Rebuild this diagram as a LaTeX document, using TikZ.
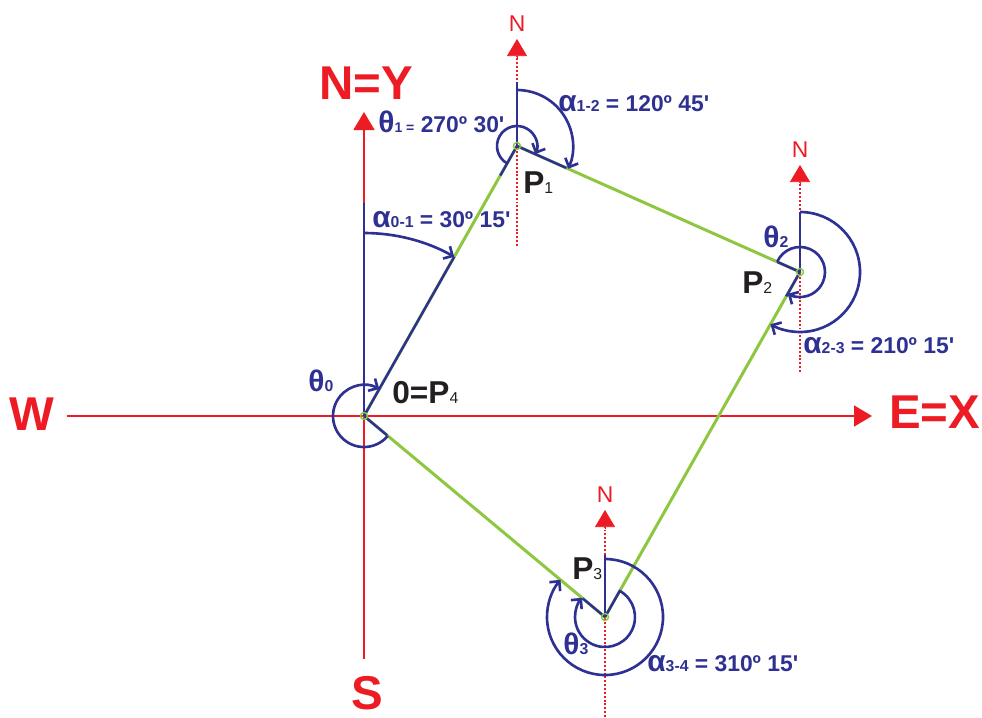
\documentclass[tikz,border=0pt]{standalone}
\usepackage{fontspec}
\setmainfont{Liberation Sans}
\usetikzlibrary{arrows.meta,calc}
\definecolor{axred}{HTML}{ED1C24}
\definecolor{angblue}{HTML}{2E3192}
\definecolor{travgreen}{HTML}{8DC63F}
\definecolor{ptdark}{HTML}{231F20}

\newcommand{\azlbl}[2]{{\fontsize{17}{17}\selectfont α}{\fontsize{9}{9}\selectfont #1} = #2}
\newcommand{\thlbl}[1]{{\fontsize{17}{17}\selectfont θ}{\fontsize{9}{9}\selectfont #1}}
\newcommand{\ptlbl}[1]{P{\fontsize{9}{9}\selectfont\mdseries #1}}
\newcommand{\mn}{\textquotesingle}

\begin{document}
\begin{tikzpicture}[
    axis/.style={draw=axred, line width=0.9pt, -{Triangle[length=0.36cm, width=0.42cm]}},
    northline/.style={draw=axred, line width=0.9pt, dash pattern=on 1.1pt off 1.1pt},
    northtip/.style={draw=axred, line width=0.4pt, -{Triangle[length=0.34cm, width=0.4cm]}},
    trav/.style={draw=travgreen, line width=1.7pt, line join=round},
    leg/.style={draw=angblue, line width=1.4pt},
    angarc/.style={draw=angblue, line width=1.5pt, -{Straight Barb[length=4pt, width=8pt]}},
    vtx/.style={draw=travgreen, line width=0.8pt},
    axlbl/.style={text=axred, font=\fontsize{27}{27}\selectfont\bfseries, inner sep=0pt},
    northlbl/.style={text=axred, font=\fontsize{13}{13}\selectfont, inner sep=0pt},
    anglbl/.style={text=angblue, font=\fontsize{13}{15}\selectfont\bfseries, inner sep=0pt, anchor=base west},
    ptlabel/.style={text=ptdark, font=\fontsize{18}{18}\selectfont\bfseries, inner sep=0pt, anchor=base west}
]
\useasboundingbox (-7.28,-6.02) rectangle (12.36,8.32);

% traverse points
\coordinate (O) at (0,0);
\coordinate (P1) at (3.06,5.40);
\coordinate (P2) at (8.72,2.88);
\coordinate (P3) at (4.82,-4.02);

% axes
\coordinate (Wend) at (-5.94,0);
\coordinate (Xend) at (10.16,0);
\coordinate (Send) at (0,-4.86);
\coordinate (Yend) at (0,6.08);
\draw[axis] (Wend) -- (Xend);
\draw[axis] (Send) -- (Yend);

% local north at each station
\foreach \p in {P1,P2,P3} {
    \draw[northline] ($(\p)+(0,-2.0)$) -- ($(\p)+(0,1.8)$);
    \draw[northtip] ($(\p)+(0,1.76)$) -- ($(\p)+(0,2.14)$);
    \node[northlbl] (N\p) at ($(\p)+(0,2.44)$) {N};
}

% traverse
\draw[trav] (O) -- (P1) -- (P2) -- (P3) -- cycle;

% blue legs
\draw[leg] (O) -- ($(O)+(0,4.26)$);
\draw[leg] (O) -- ($(O)!3.66cm!(P1)$);
\draw[leg] (O) -- ($(O)!0.6cm!(P3)$);
\draw[leg] (P1) -- ($(P1)+(0,1.28)$);
\draw[leg] (P1) -- ($(P1)!0.68cm!(O)$);
\draw[leg] (P1) -- ($(P1)!1.08cm!(P2)$);
\draw[leg] (P2) -- ($(P2)+(0,1.2)$);
\draw[leg] (P2) -- ($(P2)!0.5cm!(P1)$);
\draw[leg] (P2) -- ($(P2)!0.56cm!(P3)$);
\draw[leg] (P3) -- ($(P3)+(0,1.24)$);
\draw[leg] (P3) -- ($(P3)!0.62cm!(P2)$);
\draw[leg] (P3) -- ($(P3)!0.58cm!(O)$);

% angles
\draw[angarc] ($(O)+(0,3.66)$) arc[start angle=90, end angle=60.46, radius=3.66];
\draw[angarc] ($(O)+(-39.83:0.62)$) arc[start angle=-39.83, end angle=-299.54, radius=0.62];
\draw[angarc] ($(P1)+(240.46:0.4)$) arc[start angle=240.46, end angle=-24, radius=0.4];
\draw[angarc] ($(P1)+(0,1.12)$) arc[start angle=90, end angle=-24, radius=1.12];
\draw[angarc] ($(P2)+(156:0.5)$) arc[start angle=156, end angle=-119.47, radius=0.5];
\draw[angarc] ($(P2)+(0,1.2)$) arc[start angle=90, end angle=-119.47, radius=1.2];
\draw[angarc] ($(P3)+(60.53:0.6)$) arc[start angle=60.53, end angle=-219.83, radius=0.6];
\draw[angarc] ($(P3)+(0,1.16)$) arc[start angle=90, end angle=-219.83, radius=1.16];

\foreach \p in {O,P1,P2,P3}
    \draw[vtx] (\p) circle (0.07);

% axis labels
\node[axlbl] (lblN) at (0.05,6.65) {N=Y};
\node[axlbl] (lblW) at (-6.64,0.04) {W};
\node[axlbl] (lblE) at (11.41,0.07) {E=X};
\node[axlbl] (lblS) at (0.07,-5.54) {S};

% station and angle labels
\node[ptlabel] (lblP4) at ($(O)+(0.56,0.26)$) {0=\ptlbl{4}};
\node[anglbl] (lblT0) at ($(O)+(-1.12,0.50)$) {\thlbl{0}};
\node[anglbl] (lblA01) at ($(O)+(0.16,3.78)$) {\azlbl{0-1}{30º 15\mn}};
\node[ptlabel] (lblP1) at ($(P1)+(0.12,-0.94)$) {\ptlbl{1}};
\node[anglbl] (lblT1) at ($(P1)+(-2.78,0.28)$) {{\fontsize{17}{17}\selectfont θ}{\fontsize{8}{8}\selectfont 1 =} 270º 30\mn};
\node[anglbl] (lblA12) at ($(P1)+(0.82,0.70)$) {\azlbl{1-2}{120º 45\mn}};
\node[ptlabel] (lblP2) at ($(P2)+(-1.16,-0.42)$) {\ptlbl{2}};
\node[anglbl] (lblT2) at ($(P2)+(-0.74,0.50)$) {\thlbl{2}};
\node[anglbl] (lblA23) at ($(P2)+(0.06,-1.62)$) {\azlbl{2-3}{210º 15\mn}};
\node[ptlabel] (lblP3) at ($(P3)+(-0.66,0.76)$) {\ptlbl{3}};
\node[anglbl] (lblT3) at ($(P3)+(-0.84,-0.74)$) {\thlbl{3}};
\node[anglbl] (lblA34) at ($(P3)+(0.84,-1.08)$) {\azlbl{3-4}{310º 15\mn}};
\end{tikzpicture}
\end{document}
